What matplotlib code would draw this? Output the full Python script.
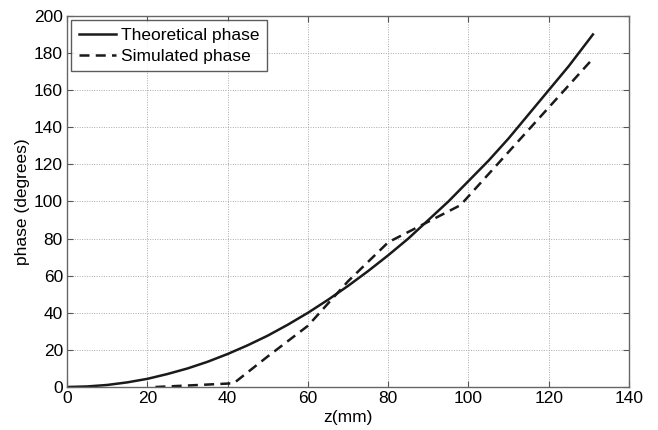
import matplotlib
matplotlib.use("Agg")
import matplotlib.pyplot as plt

# values
z_theory = [0, 5, 10, 15, 20, 25, 30, 35, 40, 45, 50, 55, 60, 65, 70, 75,
            80, 85, 90, 95, 100, 105, 110, 115, 120, 125, 131]
phase_theory = [0, 0.3, 1.1, 2.5, 4.4, 7, 10, 13.6, 17.8, 22.5, 27.7, 33.6,
                40, 47, 54.5, 62.5, 71, 80, 90, 100, 111, 122, 134, 147,
                160, 173, 190]

z_sim = [22, 30, 41.5, 50, 60, 70, 80, 98, 131]
phase_sim = [0, 0.8, 2, 16.5, 33, 57, 78, 98, 177]

xticks = [0, 20, 40, 60, 80, 100, 120, 140]
yticks = [0, 20, 40, 60, 80, 100, 120, 140, 160, 180, 200]

plt.rcParams["font.family"] = ["Liberation Sans", "DejaVu Sans"]

fig = plt.figure(figsize=(6.58, 4.30), dpi=100)
ax = fig.add_axes([0.102, 0.100, 0.854, 0.863])

ax.plot(z_theory, phase_theory, color="#1a1a1a", linewidth=1.8,
        label="Theoretical phase")
ax.plot(z_sim, phase_sim, color="#1a1a1a", linewidth=1.8,
        linestyle=(0, (4, 2.5)), label="Simulated phase")

ax.set_xlim(0, 140)
ax.set_ylim(0, 200)
ax.set_xticks(xticks)
ax.set_yticks(yticks)
ax.tick_params(direction="in", length=4, labelsize=12.5, top=True,
               right=True, color="#555555", pad=3)
ax.grid(True, linestyle=(0, (1, 1.5)), color="#aaaaaa", linewidth=0.7)
for sp in ax.spines.values():
    sp.set_color("#666666")
    sp.set_linewidth(1.0)

ax.set_xlabel("z(mm)", fontsize=12.5, labelpad=3)
ax.set_ylabel("phase (degrees)", fontsize=12.5, labelpad=3)

leg = ax.legend(loc="upper left", fontsize=12.5, frameon=True, fancybox=False,
                borderpad=0.45, handlelength=2.1, handletextpad=0.3,
                labelspacing=0.3, borderaxespad=0.25)
leg.get_frame().set_edgecolor("#333333")
leg.get_frame().set_linewidth(1.0)

fig.savefig("out.png", dpi=100)
